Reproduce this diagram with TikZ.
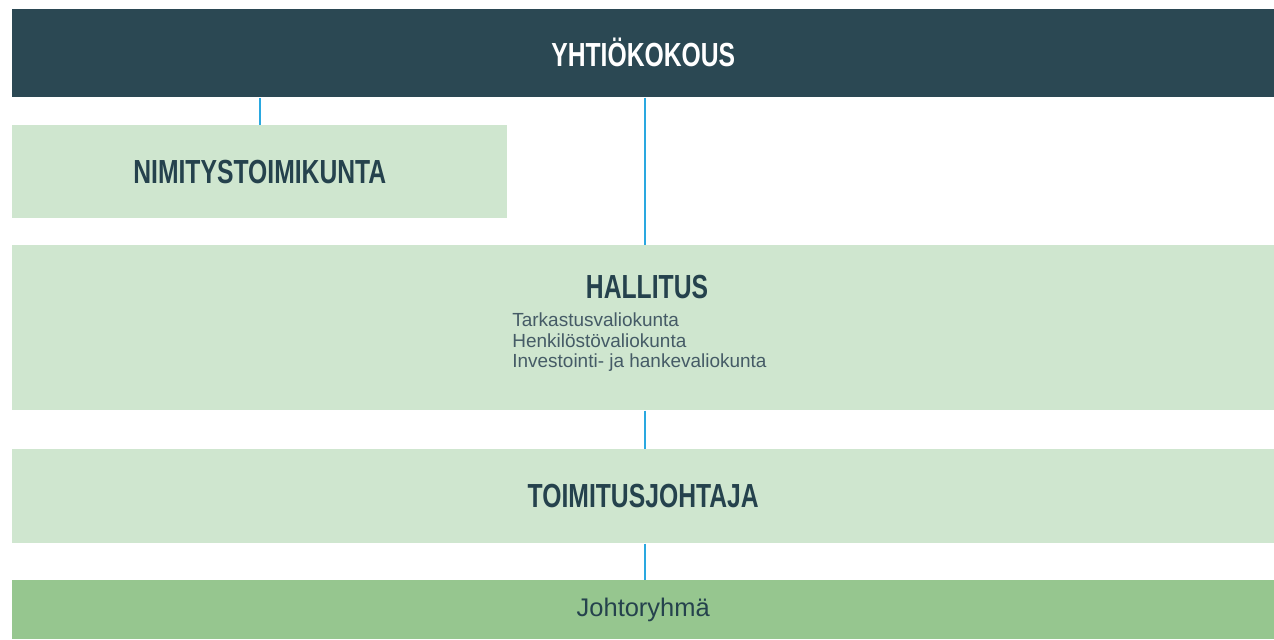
\documentclass[tikz,border=0pt]{standalone}
\usepackage{fontspec}
\setmainfont{Liberation Sans}
\newfontfamily\headfont[FakeStretch=0.74]{Liberation Sans}
\usetikzlibrary{positioning}
\definecolor{topdark}{HTML}{2B4853}
\definecolor{palegreen}{HTML}{CFE6CF}
\definecolor{midgreen}{HTML}{96C68F}
\definecolor{linkblue}{HTML}{2AA8E0}
\definecolor{headtext}{HTML}{25424D}
\definecolor{listtext}{HTML}{455B66}

\begin{document}
\begin{tikzpicture}[x=0.02cm,y=-0.02cm]
\tikzstyle{orgbox}=[rectangle,fill=palegreen,inner sep=0pt,anchor=north west]
\tikzstyle{every node}=[font=\headfont\fontsize{19}{22}\selectfont\bfseries,text=headtext]
\tikzstyle{link}=[draw=linkblue,line width=1.1pt]
\useasboundingbox (0,0) rectangle (1274,639);
\node[orgbox,fill=topdark,text=white,minimum width=25.24cm,minimum height=1.76cm] (kokous) at (12,9) {\raisebox{1.5pt}{YHTIÖKOKOUS}};
\node[orgbox,minimum width=9.9cm,minimum height=1.86cm] (nimitys) at (12,125) {NIMITYSTOIMIKUNTA};
\node[orgbox,minimum width=25.24cm,minimum height=3.3cm] (hallitus) at (12,245) {};
\node[orgbox,minimum width=25.24cm,minimum height=1.88cm] (toimjoht) at (12,449) {TOIMITUSJOHTAJA};
\node[orgbox,fill=midgreen,minimum width=25.24cm,minimum height=1.18cm,font=\fontsize{14.5}{16}\selectfont] (johto) at (12,580) {Johtoryhmä};
\node (hallhead) at (647,287) {HALLITUS};
\node[anchor=north west,inner sep=0pt,align=left,text=listtext,font=\fontsize{10.8}{11.9}\selectfont] (valiok) at (512,312)
  {Tarkastusvaliokunta\\Henkilöstövaliokunta\\Investointi- ja hankevaliokunta};
\draw[link] (nimitys.north) -- (nimitys.north |- kokous.south);
\draw[link] ([xshift=0.04cm]kokous.south) -- ([xshift=0.04cm]hallitus.north);
\draw[link] ([xshift=0.04cm]hallitus.south) -- ([xshift=0.04cm]toimjoht.north);
\draw[link] ([xshift=0.04cm]toimjoht.south) -- ([xshift=0.04cm]johto.north);
\end{tikzpicture}
\end{document}
